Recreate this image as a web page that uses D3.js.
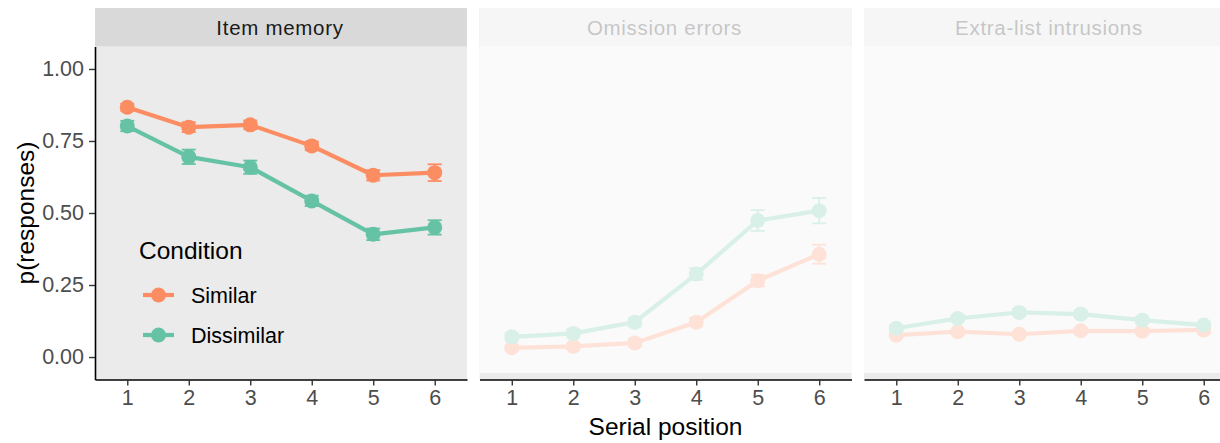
<!DOCTYPE html>
<html>
<head>
<meta charset="utf-8">
<script src="https://cdn.jsdelivr.net/npm/d3@7"></script>
<style>
  body { margin: 0; background: #fff; }
  svg text { font-family: "Liberation Sans", Arial, Helvetica, sans-serif; }
</style>
</head>
<body>
<svg id="chart" width="1220" height="443"></svg>
<script>
// Serial positions and facet names
const positions = [1, 2, 3, 4, 5, 6];
const panelNames = ["Item memory", "Omission errors", "Extra-list intrusions"];
const conditions = ["Similar", "Dissimilar"];
const conditionColors = ["#fc8d62", "#66c2a5"];

// Mean proportions per serial position (and standard errors)
const itemSimilar      = [0.867, 0.798, 0.806, 0.733, 0.631, 0.640];
const itemSimilarSE    = [0.012, 0.017, 0.015, 0.015, 0.018, 0.029];
const itemDissimilar   = [0.802, 0.695, 0.659, 0.542, 0.426, 0.450];
const itemDissimilarSE = [0.018, 0.025, 0.023, 0.018, 0.020, 0.025];

const omitSimilar      = [0.032, 0.037, 0.049, 0.121, 0.265, 0.357];
const omitSimilarSE    = [0.010, 0.010, 0.012, 0.014, 0.020, 0.033];
const omitDissimilar   = [0.070, 0.082, 0.121, 0.288, 0.474, 0.508];
const omitDissimilarSE = [0.013, 0.014, 0.015, 0.020, 0.036, 0.044];

const extraSimilar      = [0.076, 0.088, 0.079, 0.091, 0.090, 0.094];
const extraSimilarSE    = [0.008, 0.008, 0.008, 0.009, 0.009, 0.009];
const extraDissimilar   = [0.100, 0.134, 0.155, 0.149, 0.128, 0.111];
const extraDissimilarSE = [0.010, 0.011, 0.012, 0.012, 0.011, 0.010];

const yTickValues = [0, 0.25, 0.5, 0.75, 1];
const yTickLabels = ["0.00", "0.25", "0.50", "0.75", "1.00"];

const panelData = [
  [{ mean: itemSimilar, se: itemSimilarSE }, { mean: itemDissimilar, se: itemDissimilarSE }],
  [{ mean: omitSimilar, se: omitSimilarSE }, { mean: omitDissimilar, se: omitDissimilarSE }],
  [{ mean: extraSimilar, se: extraSimilarSE }, { mean: extraDissimilar, se: extraDissimilarSE }]
];

const svg = d3.select("#chart");
svg.append("rect").attr("width", 1220).attr("height", 443).attr("fill", "#fff");

const panelLeft = [95, 479.5, 864];
const panelW = 372;
const stripTop = 8, panelTop = 46.5, panelBottom = 379.5;
const tickFont = 21.5;

const y = d3.scaleLinear().domain([-0.078, 1.078]).range([panelBottom, panelTop]);
const x = d3.scaleLinear().domain([0.475, 6.525]).range([0, panelW]);

panelNames.forEach((name, p) => {
  const g = svg.append("g").attr("transform", `translate(${panelLeft[p]},0)`);

  // panel background and strip
  g.append("rect").attr("x", 0).attr("y", panelTop).attr("width", panelW)
    .attr("height", panelBottom - panelTop).attr("fill", "#ebebeb");
  g.append("rect").attr("x", 0).attr("y", stripTop).attr("width", panelW)
    .attr("height", panelTop - stripTop).attr("fill", "#d9d9d9");
  g.append("text").attr("x", panelW / 2 - 1).attr("y", 34.5).attr("text-anchor", "middle")
    .attr("font-size", 20.5).attr("fill", "#1a1a1a").attr("letter-spacing", 0.7).text(name);

  const line = d3.line().x((d, i) => x(positions[i])).y(d => y(d));

  // lines
  panelData[p].forEach((s, c) => {
    g.append("path").datum(s.mean).attr("d", line).attr("fill", "none")
      .attr("stroke", conditionColors[c]).attr("stroke-width", 4.2).attr("stroke-linejoin", "round");
  });
  // points and error bars
  panelData[p].forEach((s, c) => {
    const col = conditionColors[c];
    g.selectAll(null).data(s.mean).join("circle")
      .attr("cx", (d, i) => x(positions[i])).attr("cy", d => y(d)).attr("r", 7.5).attr("fill", col);
    const eb = g.selectAll(null).data(s.mean).join("g")
      .attr("transform", (d, i) => `translate(${x(positions[i])},0)`);
    eb.append("line").attr("y1", (d, i) => y(d - s.se[i])).attr("y2", (d, i) => y(d + s.se[i]))
      .attr("stroke", col).attr("stroke-width", 1.8);
    eb.append("line").attr("x1", -7).attr("x2", 7)
      .attr("y1", (d, i) => y(d + s.se[i])).attr("y2", (d, i) => y(d + s.se[i]))
      .attr("stroke", col).attr("stroke-width", 1.8);
    eb.append("line").attr("x1", -7).attr("x2", 7)
      .attr("y1", (d, i) => y(d - s.se[i])).attr("y2", (d, i) => y(d - s.se[i]))
      .attr("stroke", col).attr("stroke-width", 1.8);
  });

  // non-focal panels are washed out
  if (p > 0) {
    g.append("rect").attr("x", 0).attr("y", stripTop).attr("width", panelW)
      .attr("height", 373 - stripTop).attr("fill", "#fff").attr("opacity", 0.75);
  }

  // x axis
  const xAxis = d3.axisBottom(x).tickValues(positions).tickFormat(d3.format("d"))
    .tickSize(6).tickPadding(4).tickSizeOuter(0);
  const ax = g.append("g").attr("transform", `translate(0,${panelBottom})`).call(xAxis);
  ax.select(".domain").attr("stroke", "#000").attr("stroke-width", 1.6);
  ax.selectAll(".tick line").attr("stroke", "#333").attr("stroke-width", 1.4);
  ax.selectAll(".tick text").attr("fill", "#4d4d4d").attr("font-size", tickFont)
    .attr("font-family", null);

  if (p === 0) {
    const yAxis = d3.axisLeft(y).tickValues(yTickValues)
      .tickFormat((d, i) => yTickLabels[i]).tickSize(6).tickPadding(5).tickSizeOuter(0);
    const ay = g.append("g").call(yAxis);
    ay.select(".domain").attr("stroke", "#000").attr("stroke-width", 1.6);
    ay.selectAll(".tick line").attr("stroke", "#333").attr("stroke-width", 1.4);
    ay.selectAll(".tick text").attr("fill", "#4d4d4d").attr("font-size", tickFont)
      .attr("font-family", null);
  }
});

// axis titles
svg.append("text").attr("x", (panelLeft[0] + panelLeft[2] + panelW) / 2).attr("y", 435)
  .attr("text-anchor", "middle").attr("font-size", 24.5).attr("fill", "#000").text("Serial position");
svg.append("text").attr("transform", `translate(33.5,${(panelTop + panelBottom) / 2}) rotate(-90)`)
  .attr("text-anchor", "middle").attr("font-size", 24.5).attr("fill", "#000").text("p(responses)");

// legend
const legend = svg.append("g");
legend.append("text").attr("x", 139).attr("y", 259).attr("font-size", 24.5).attr("fill", "#000")
  .text("Condition");
conditions.forEach((c, i) => {
  const ky = 295 + i * 40;
  legend.append("line").attr("x1", 143).attr("x2", 174).attr("y1", ky).attr("y2", ky)
    .attr("stroke", conditionColors[i]).attr("stroke-width", 4.2);
  legend.append("circle").attr("cx", 158.5).attr("cy", ky).attr("r", 7.5).attr("fill", conditionColors[i]);
  legend.append("text").attr("x", 191).attr("y", ky + 7.5).attr("font-size", 21.5).attr("fill", "#000")
    .text(c);
});
</script>
</body>
</html>
